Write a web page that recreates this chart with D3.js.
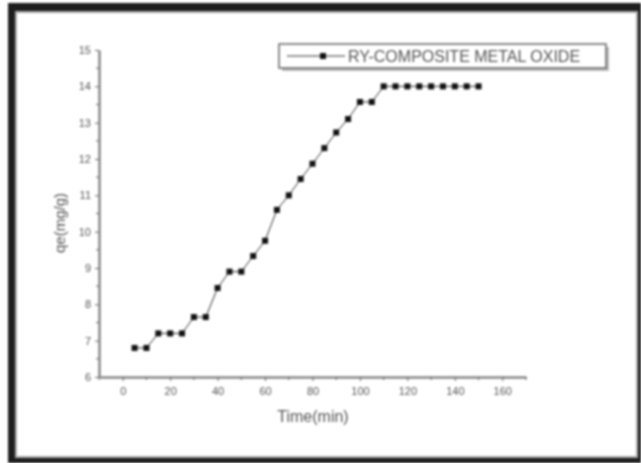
<!DOCTYPE html>
<html>
<head>
<meta charset="utf-8">
<script src="https://cdn.jsdelivr.net/npm/d3@7"></script>
<style>
  body { margin: 0; background: #fff; }
  svg { display: block; filter: blur(0.8px); }
  text { font-family: "Liberation Sans", Arial, sans-serif; fill: #555; }
</style>
</head>
<body>
<div id="chart"></div>
<script>
// time in minutes and adsorbed amount qe (mg/g)
const times = [5, 10, 15, 20, 25, 30, 35, 40, 45, 50, 55, 60, 65, 70, 75,
               80, 85, 90, 95, 100, 105, 110, 115, 120, 125, 130, 135, 140, 145, 150];
const qe = [6.8, 6.8, 7.2, 7.2, 7.2, 7.65, 7.65, 8.45, 8.9, 8.9, 9.33, 9.75, 10.6, 11.0, 11.45,
            11.87, 12.3, 12.73, 13.1, 13.57, 13.57, 14.0, 14.0, 14.0, 14.0, 14.0, 14.0, 14.0, 14.0, 14.0];
const xTicks = [0, 20, 40, 60, 80, 100, 120, 140, 160];
const yTicks = [6, 7, 8, 9, 10, 11, 12, 13, 14, 15];
const seriesName = "RY-COMPOSITE METAL OXIDE";

const W = 641, H = 463;
const m = {l: 99, r: 115, t: 50, b: 86};

const svg = d3.select("#chart").append("svg")
    .attr("width", W).attr("height", H);

// dark photo frame around the plot
svg.append("rect").attr("x", 8).attr("y", 3).attr("width", W - 8).attr("height", H - 3)
    .attr("fill", "#1e1e1e");
svg.append("rect").attr("x", 16).attr("y", 12).attr("width", 621).attr("height", 445)
    .attr("fill", "#fff").attr("stroke", "#aaa").attr("stroke-width", 2);

const x = d3.scaleLinear().domain([-10, 170]).range([m.l, W - m.r]);
const y = d3.scaleLinear().domain([6, 15]).range([H - m.b, m.t]);

// minor ticks halfway between majors
const xMinor = d3.range(-10, 171, 20);
const yMinor = d3.range(6.5, 15, 1);

const gx = svg.append("g").attr("transform", "translate(0," + y(6) + ")")
    .call(d3.axisBottom(x).tickValues(xTicks).tickSize(4).tickPadding(6).tickSizeOuter(0));
gx.append("g").selectAll("line").data(xMinor).join("line")
    .attr("x1", d => x(d)).attr("x2", d => x(d)).attr("y1", 0).attr("y2", 3)
    .attr("stroke", "#666");

const gy = svg.append("g").attr("transform", "translate(" + x(-10) + ",0)")
    .call(d3.axisLeft(y).tickValues(yTicks).tickSize(4).tickPadding(4).tickSizeOuter(0));
gy.append("g").selectAll("line").data(yMinor).join("line")
    .attr("y1", d => y(d)).attr("y2", d => y(d)).attr("x1", 0).attr("x2", -3)
    .attr("stroke", "#666");

svg.selectAll(".domain").attr("stroke", "#888").attr("stroke-width", 2.5);
svg.selectAll(".tick line").attr("stroke", "#666");
svg.selectAll(".tick text").attr("font-size", 11).style("fill", "#555");

// axis titles
svg.append("text").attr("x", 313).attr("y", 422).attr("text-anchor", "middle")
    .attr("font-size", 16).text("Time(min)");
svg.append("text").attr("transform", "translate(65,223) rotate(-90)")
    .attr("text-anchor", "middle").attr("font-size", 15).text("qe(mg/g)");

// series
const pts = times.map((t, i) => [t, qe[i]]);
svg.append("path").datum(pts)
    .attr("fill", "none").attr("stroke", "#333").attr("stroke-width", 1)
    .attr("d", d3.line().x(d => x(d[0])).y(d => y(d[1])));
svg.append("g").selectAll("rect").data(pts).join("rect")
    .attr("x", d => x(d[0]) - 3).attr("y", d => y(d[1]) - 3)
    .attr("width", 6).attr("height", 6).attr("fill", "#111");

// legend with shadow
const lg = svg.append("g").attr("transform", "translate(279,44)");
lg.append("rect").attr("x", 3).attr("y", 3).attr("width", 327).attr("height", 24).attr("fill", "#bbb");
lg.append("rect").attr("width", 327).attr("height", 24)
    .attr("fill", "#fff").attr("stroke", "#666").attr("stroke-width", 1.5);
lg.append("line").attr("x1", 8).attr("x2", 66).attr("y1", 12).attr("y2", 12)
    .attr("stroke", "#333");
lg.append("rect").attr("x", 41).attr("y", 9).attr("width", 6).attr("height", 6).attr("fill", "#111");
lg.append("text").attr("x", 69).attr("y", 18).attr("font-size", 16).text(seriesName);
</script>
</body>
</html>
